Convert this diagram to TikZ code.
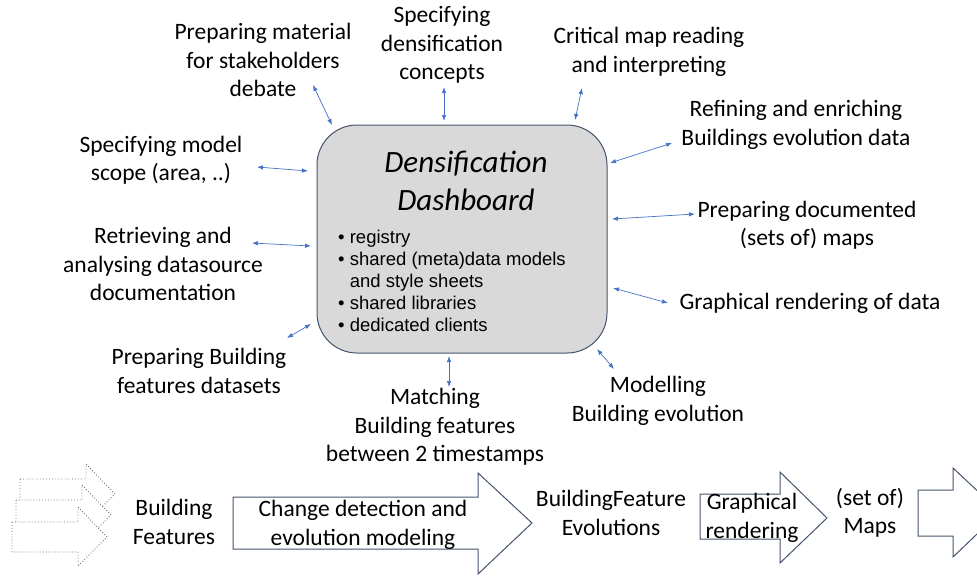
\documentclass[tikz,border=0pt]{standalone}
\usepackage{fontspec}
\setmainfont{Carlito}
\newfontfamily\arialf{Liberation Sans}
\usetikzlibrary{arrows.meta}
\definecolor{linkblue}{HTML}{4472C4}
\definecolor{boxgray}{HTML}{D9D9D9}
\definecolor{slate}{HTML}{44546A}
\tikzset{
  lbl/.style={align=center, inner sep=0pt, font=\fontsize{23.5}{28.5}\selectfont},
  link/.style={linkblue, line width=0.7pt, {Latex[length=6pt,width=4.5pt]}-{Latex[length=6pt,width=4.5pt]}},
  dashbox/.style={draw=slate, fill=boxgray, line width=1pt, rounded corners=40pt, minimum width=290pt, minimum height=228pt, inner sep=0pt},
  bigarrow/.style={draw=slate, fill=white, line width=1pt, line join=miter},
  dotarrow/.style={draw=slate!80, fill=white, line width=0.9pt, dotted},
}
\begin{document}
\begin{tikzpicture}[x=1pt,y=-1pt]
\useasboundingbox (0,0) rectangle (977,576);
\clip (0,0) rectangle (977,576);

% central dashboard
\node[dashbox] (dash) at (462,239) {};
\node[inner sep=0pt, align=center, font=\fontsize{31}{38}\selectfont\itshape] (title) at (466,181) {Densification\\Dashboard};
\node[inner sep=0pt, align=left, anchor=north west, font=\arialf\fontsize{18.5}{22}\selectfont] (items) at (338,230)
  {• registry\\• shared (meta)data models\\\phantom{• }and style sheets\\• shared libraries\\• dedicated clients};

% surrounding activities
\node[lbl] (l1) at (263,60) {Preparing material\\for stakeholders\\debate};
\node[lbl] (l2) at (442,45) {Specifying\\densification\\concepts};
\node[lbl] (l3) at (649,52) {Critical map reading\\and interpreting};
\node[lbl] (l4) at (796,125) {Refining and enriching\\Buildings evolution data};
\node[lbl] (l5) at (807,225) {Preparing documented\\(sets of) maps};
\node[lbl] (l6) at (810,303) {Graphical rendering of data};
\node[lbl] (l7) at (658,401) {Modelling\\Building evolution};
\node[lbl] (l8) at (435,427) {Matching\\Building features\\between 2 timestamps};
\node[lbl] (l9) at (199,371) {Preparing Building\\features datasets};
\node[lbl] (l10) at (163,264) {Retrieving and\\analysing datasource\\documentation};
\node[lbl] (l11) at (161,160) {Specifying model\\scope (area, ..)};

% connector end points
\coordinate (a1) at (313,85);  \coordinate (b1) at (332,125);
\coordinate (a2) at (444,87);  \coordinate (b2) at (444,121);
\coordinate (a3) at (582,88);  \coordinate (b3) at (575,120);
\coordinate (a4) at (672,143); \coordinate (b4) at (610,163);
\coordinate (a5) at (695,214); \coordinate (b5) at (612,219);
\coordinate (a6) at (668,303); \coordinate (b6) at (613,288);
\coordinate (a7) at (614,369); \coordinate (b7) at (597,349);
\coordinate (a8) at (449,387); \coordinate (b8) at (449,356);
\coordinate (a9) at (287,338); \coordinate (b9) at (311,324);
\coordinate (a10) at (252,243); \coordinate (b10) at (311,246);
\coordinate (a11) at (257,167); \coordinate (b11) at (308,171);
\foreach \i in {1,...,11} { \draw[link] (a\i) -- (b\i); }

% bottom process chain
\foreach \dx/\dy in {8/-43, 4/-22, 0/0} {
  \draw[dotarrow, shift={(\dx,\dy)}] (12,522) -- (78,522) -- (78,507) -- (107,537) -- (78,566) -- (78,552) -- (12,552) -- cycle;
}
\node[lbl] (bf) at (174,522) {Building\\Features};

\draw[bigarrow] (233,497) -- (478,497) -- (478,473) -- (532,523) -- (478,574) -- (478,549) -- (233,549) -- cycle;
\node[lbl] (cd) at (363,525) {Change detection and\\evolution modeling};

\node[lbl] (bfe) at (611,513) {BuildingFeature\\Evolutions};

\draw[bigarrow] (700,494) -- (780,494) -- (780,472) -- (827,518) -- (780,563) -- (780,539) -- (700,539) -- cycle;
\node[lbl] (gr) at (752,518) {Graphical\\rendering};

\node[lbl] (maps) at (870,513) {(set of)\\Maps};

\draw[bigarrow] (918,490) -- (953,490) -- (953,468) -- (1000,512) -- (953,557) -- (953,536) -- (918,536) -- cycle;
\end{tikzpicture}
\end{document}
